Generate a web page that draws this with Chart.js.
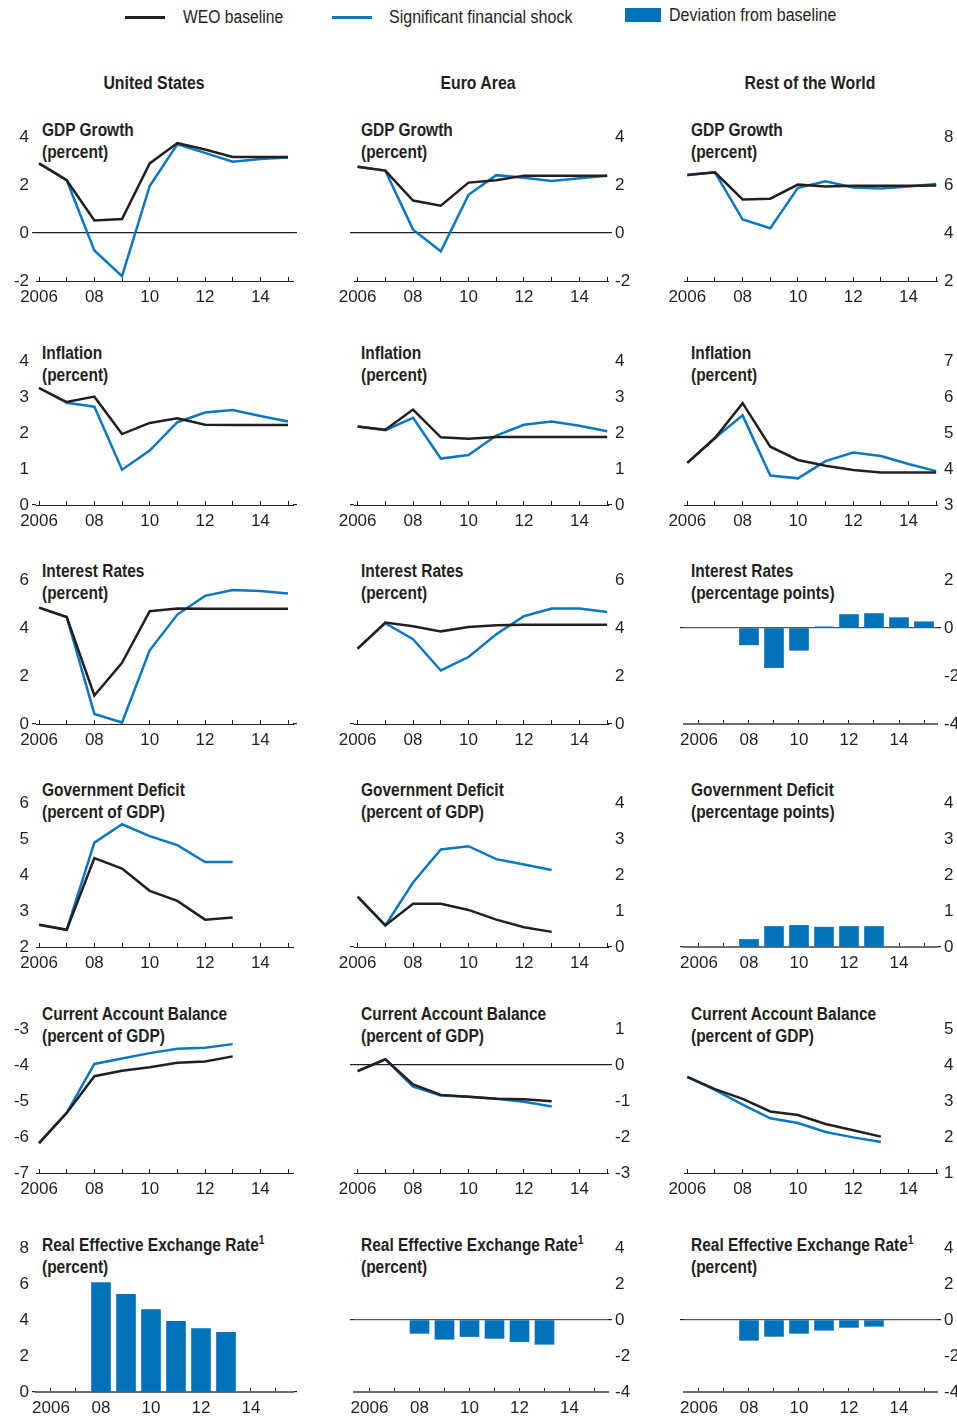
<!DOCTYPE html>
<html>
<head>
<meta charset="utf-8">
<script src="https://cdn.jsdelivr.net/npm/chart.js@4.4.1/dist/chart.umd.min.js"></script>
<style>
  body { margin: 0; width: 957px; height: 1418px; overflow: hidden; background: #fff; position: relative;
         font-family: "Liberation Sans", Arial, sans-serif; color: #231f20; }
  .abs { position: absolute; white-space: nowrap; }
  .leg { font-size: 18px; line-height: 22px; transform: scaleX(0.89); transform-origin: left center; }
  .colhead { font-size: 18px; font-weight: bold; line-height: 22px; text-align: center; width: 240px;
             transform: scaleX(0.88); transform-origin: center center; }
  .ttl { font-size: 18px; font-weight: bold; line-height: 22px; transform: scaleX(0.86); transform-origin: left top; }
  .ttl sup { font-size: 12px; line-height: 0; vertical-align: 7px; }
  canvas { position: absolute; }
</style>
</head>
<body>

<!-- legend -->
<div class="abs" style="left:125px;top:16px;width:40px;height:3px;background:#231f20"></div>
<div class="abs leg" style="left:183px;top:6px;transform:scaleX(0.87)">WEO baseline</div>
<div class="abs" style="left:332px;top:16px;width:40px;height:3px;background:#0b78c1"></div>
<div class="abs leg" style="left:389px;top:6px">Significant financial shock</div>
<div class="abs" style="left:625px;top:8px;width:36px;height:14px;background:#0072bc"></div>
<div class="abs leg" style="left:669px;top:4px">Deviation from baseline</div>

<div class="abs colhead" style="left:34px;top:72px">United States</div>
<div class="abs colhead" style="left:358px;top:72px">Euro Area</div>
<div class="abs colhead" style="left:690px;top:72px">Rest of the World</div>

<script>
const FONT = '"Liberation Sans", Arial, sans-serif';
const INK = "#231f20";
const BLUE_LINE = "#0b78c1";
const BLUE_BAR = "#0072bc";

const years = [2006, 2007, 2008, 2009, 2010, 2011, 2012, 2013, 2014, 2015];

// GDP growth
const usGdpBase = [2.9, 2.2, 0.52, 0.58, 2.9, 3.75, 3.48, 3.17, 3.17, 3.17];
const usGdpShock = [2.9, 2.2, -0.73, -1.8, 1.96, 3.7, 3.34, 2.97, 3.08, 3.15];
const eaGdpBase = [2.76, 2.6, 1.35, 1.14, 2.1, 2.2, 2.39, 2.39, 2.39, 2.39];
const eaGdpShock = [2.76, 2.6, 0.14, -0.76, 1.59, 2.41, 2.3, 2.17, 2.28, 2.39];
const rwGdpBase = [6.42, 6.53, 5.4, 5.43, 6.02, 5.94, 5.97, 5.97, 5.97, 5.98];
const rwGdpShock = [6.42, 6.53, 4.56, 4.2, 5.88, 6.15, 5.9, 5.85, 5.94, 6.04];

// inflation
const usInflBase = [3.25, 2.86, 3.01, 1.97, 2.28, 2.41, 2.23, 2.22, 2.22, 2.22];
const usInflShock = [3.25, 2.84, 2.73, 0.98, 1.51, 2.3, 2.57, 2.64, 2.47, 2.32];
const eaInflBase = [2.18, 2.09, 2.65, 1.88, 1.84, 1.89, 1.89, 1.89, 1.89, 1.89];
const eaInflShock = [2.18, 2.08, 2.42, 1.29, 1.39, 1.93, 2.23, 2.32, 2.2, 2.05];
const rwInflBase = [4.17, 4.86, 5.83, 4.62, 4.25, 4.09, 3.97, 3.9, 3.9, 3.9];
const rwInflShock = [4.17, 4.86, 5.49, 3.82, 3.74, 4.22, 4.46, 4.36, 4.14, 3.94];

// interest rates
const usRateBase = [4.85, 4.46, 1.19, 2.55, 4.7, 4.81, 4.8, 4.8, 4.8, 4.8];
const usRateShock = [4.85, 4.46, 0.42, 0.06, 3.07, 4.56, 5.34, 5.58, 5.54, 5.44];
const eaRateBase = [3.14, 4.23, 4.07, 3.86, 4.04, 4.11, 4.14, 4.14, 4.14, 4.14];
const eaRateShock = [3.14, 4.2, 3.53, 2.23, 2.79, 3.74, 4.49, 4.81, 4.81, 4.67];
const rwRateDev = [null, null, -0.7, -1.65, -0.93, 0.05, 0.56, 0.6, 0.43, 0.26];

// government deficit
const usDefBase = [2.62, 2.48, 4.47, 4.18, 3.56, 3.28, 2.76, 2.82, null, null];
const usDefShock = [2.62, 2.48, 4.9, 5.41, 5.08, 4.83, 4.36, 4.36, null, null];
const eaDefBase = [1.4, 0.6, 1.2, 1.2, 1.03, 0.76, 0.55, 0.42, null, null];
const eaDefShock = [1.4, 0.6, 1.79, 2.71, 2.8, 2.44, 2.29, 2.14, null, null];
const rwDefDev = [null, null, 0.21, 0.57, 0.6, 0.55, 0.57, 0.57, null, null];

// current account balance
const usCaBase = [-6.17, -5.33, -4.31, -4.16, -4.06, -3.94, -3.9, -3.76, null, null];
const usCaShock = [-6.17, -5.33, -3.97, -3.82, -3.67, -3.55, -3.52, -3.42, null, null];
const eaCaBase = [-0.17, 0.16, -0.54, -0.83, -0.88, -0.94, -0.95, -1.01, null, null];
const eaCaShock = [-0.17, 0.16, -0.6, -0.85, -0.88, -0.94, -1.02, -1.15, null, null];
const rwCaBase = [3.67, 3.33, 3.06, 2.71, 2.61, 2.36, 2.19, 2.01, null, null];
const rwCaShock = [3.67, 3.31, 2.9, 2.52, 2.39, 2.14, 1.99, 1.86, null, null];

// real effective exchange rate
const usReerDev = [null, null, 6.08, 5.42, 4.58, 3.92, 3.53, 3.31, null, null];
const eaReerDev = [null, null, -0.74, -1.07, -0.92, -1.02, -1.2, -1.35, null, null];
const rwReerDev = [null, null, -1.13, -0.91, -0.74, -0.57, -0.41, -0.35, null, null];

// rows of panels
const rows = [
  { title: "GDP Growth", minor: 1, major: 2, titleTop: 119,
    cells: [
      { unit: "(percent)", range: [-2, 4], lines: [usGdpBase, usGdpShock] },
      { unit: "(percent)", range: [-2, 4], lines: [eaGdpBase, eaGdpShock] },
      { unit: "(percent)", range: [2, 8], lines: [rwGdpBase, rwGdpShock] } ] },
  { title: "Inflation", minor: 0.5, major: 1, titleTop: 342,
    cells: [
      { unit: "(percent)", range: [0, 4], lines: [usInflBase, usInflShock] },
      { unit: "(percent)", range: [0, 4], lines: [eaInflBase, eaInflShock] },
      { unit: "(percent)", range: [3, 7], lines: [rwInflBase, rwInflShock] } ] },
  { title: "Interest Rates", minor: 1, major: 2, titleTop: 560,
    cells: [
      { unit: "(percent)", range: [0, 6], lines: [usRateBase, usRateShock] },
      { unit: "(percent)", range: [0, 6], lines: [eaRateBase, eaRateShock] },
      { unit: "(percentage points)", range: [-4, 2], bars: rwRateDev } ] },
  { title: "Government Deficit", minor: 0.5, major: 1, titleTop: 779,
    cells: [
      { unit: "(percent of GDP)", range: [2, 6], lines: [usDefBase, usDefShock] },
      { unit: "(percent of GDP)", range: [0, 4], lines: [eaDefBase, eaDefShock] },
      { unit: "(percentage points)", range: [0, 4], bars: rwDefDev } ] },
  { title: "Current Account Balance", minor: 0.5, major: 1, titleTop: 1003,
    cells: [
      { unit: "(percent of GDP)", range: [-7, -3], lines: [usCaBase, usCaShock] },
      { unit: "(percent of GDP)", range: [-3, 1], lines: [eaCaBase, eaCaShock] },
      { unit: "(percent of GDP)", range: [1, 5], lines: [rwCaBase, rwCaShock] } ] },
  { title: "Real Effective Exchange Rate<sup>1</sup>", minor: 1, major: 2, titleTop: 1234,
    cells: [
      { unit: "(percent)", range: [0, 8], bars: usReerDev },
      { unit: "(percent)", range: [-4, 4], bars: eaReerDev },
      { unit: "(percent)", range: [-4, 4], bars: rwReerDev } ] }
];

// geometry
const rowTop = [137, 361, 580, 803, 1029, 1248];
const plotH = 144;
const cols = [
  { left: 0,   pl: 0,  lw: 36, rw: 6,  pr: 4, plot: 257, side: "left",  titleX: 42,
    lineX: [2005.89, 2015.18], barX: [2005.4, 2015.68] },
  { left: 328, pl: 20, lw: 6,  rw: 36, pr: 4, plot: 254, side: "right", titleX: 361,
    lineX: [2005.87, 2015.03], barX: [2005.38, 2015.54] },
  { left: 658, pl: 20, lw: 6,  rw: 30, pr: 0, plot: 253, side: "right", titleX: 691,
    lineX: [2005.88, 2015.03], barX: [2005.4, 2015.52] }
];

Chart.defaults.font.family = FONT;
Chart.defaults.font.size = 17;
Chart.defaults.color = INK;

const pts = (arr) => years.map((y, i) => ({ x: y, y: arr[i] })).filter(p => p.y !== null);
const isMajor = (v, m) => Math.abs(v / m - Math.round(v / m)) < 1e-6;

rows.forEach((row, r) => {
  row.cells.forEach((cell, c) => {
    const g = cols[c];
    const isBar = !!cell.bars;

    // panel title
    const t = document.createElement("div");
    t.className = "abs ttl";
    t.style.left = g.titleX + "px";
    t.style.top = row.titleTop + "px";
    t.innerHTML = row.title + "<br>" + cell.unit;
    document.body.appendChild(t);

    const W = g.pl + g.lw + g.plot + g.rw + g.pr;
    const H = 20 + plotH + 30;
    const cv = document.createElement("canvas");
    cv.width = W;
    cv.height = H;
    cv.style.left = (g.left) + "px";
    cv.style.top = (rowTop[r] - 20) + "px";
    document.body.appendChild(cv);

    let datasets;
    if (isBar) {
      datasets = [{
        type: "bar",
        data: pts(cell.bars),
        backgroundColor: BLUE_BAR,
        barThickness: 19,
        borderWidth: 0
      }];
    } else {
      datasets = [
        { type: "line", label: "WEO baseline", data: pts(cell.lines[0]), borderColor: INK,
          borderWidth: 2.5, pointRadius: 0, tension: 0 },
        { type: "line", label: "Significant financial shock", data: pts(cell.lines[1]), borderColor: BLUE_LINE,
          borderWidth: 2.5, pointRadius: 0, tension: 0 }
      ];
    }

    const [ymin, ymax] = cell.range;
    const hasZero = ymin < 0 && ymax > 0;
    const xr = isBar ? g.barX : g.lineX;

    const yAxis = (pos, width, show) => ({
      type: "linear",
      position: pos,
      min: ymin,
      max: ymax,
      afterFit: (s) => { s.width = width; },
      border: { display: false },
      grid: {
        drawOnChartArea: pos === "left" && hasZero,
        drawTicks: true,
        tickLength: 4,
        tickColor: INK,
        color: (ctx) => (ctx.tick && ctx.tick.value === 0) ? (isBar ? "#555" : INK) : "rgba(0,0,0,0)",
        lineWidth: (ctx) => (ctx.tick && ctx.tick.value === 0) ? 1.2 : 0
      },
      ticks: {
        display: show,
        stepSize: row.minor,
        padding: 3,
        color: INK,
        callback: (v) => isMajor(v, row.major) ? String(v) : ""
      }
    });

    new Chart(cv, {
      data: { datasets },
      options: {
        responsive: false,
        animation: false,
        layout: { padding: { top: 20, left: g.pl, right: g.pr, bottom: 0 } },
        plugins: { legend: { display: false }, tooltip: { enabled: false } },
        scales: {
          x: {
            type: "linear",
            offset: false,
            min: xr[0],
            max: xr[1],
            afterBuildTicks: (s) => { s.ticks = years.map(v => ({ value: v })); },
            afterFit: (s) => { s.height = 30; },
            border: { display: true, color: isBar ? "#6d6e71" : INK, width: isBar ? 2 : 1 },
            grid: { offset: false, drawOnChartArea: false, drawTicks: true, tickLength: -4, tickColor: INK },
            ticks: {
              padding: 10,
              autoSkip: false,
              maxRotation: 0,
              color: INK,
              callback: (v) => (v % 2 === 0) ? (v === 2006 ? "2006" : String(v).slice(2)) : ""
            }
          },
          y: yAxis("left", g.lw, g.side === "left"),
          y2: yAxis("right", g.rw, g.side === "right")
        }
      }
    });
  });
});
</script>
</body>
</html>
